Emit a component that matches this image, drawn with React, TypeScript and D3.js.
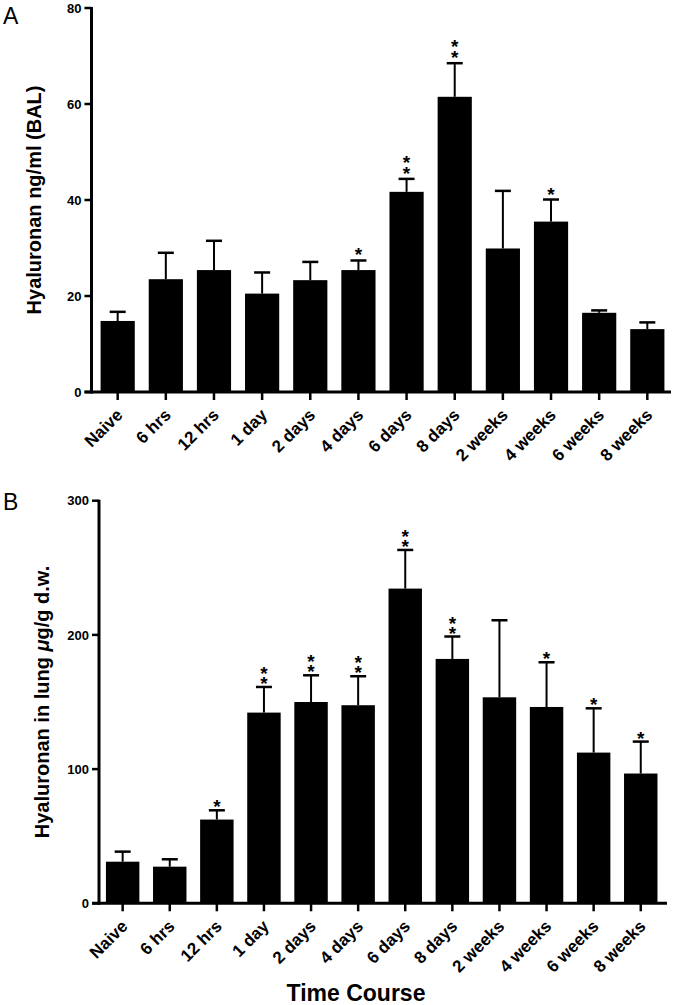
import React from "react";
import * as d3 from "d3";

const categories = ["Naive", "6 hrs", "12 hrs", "1 day", "2 days", "4 days", "6 days", "8 days", "2 weeks", "4 weeks", "6 weeks", "8 weeks"];

const balMean = [14.8, 23.5, 25.4, 20.5, 23.3, 25.4, 41.7, 61.5, 29.9, 35.5, 16.5, 13.1];
const balError = [1.9, 5.5, 6.1, 4.4, 3.8, 2.0, 2.7, 7.0, 12.0, 4.6, 0.5, 1.4];
const balStars = [0, 0, 0, 0, 0, 1, 2, 2, 0, 1, 0, 0];
const balTicks = [0, 20, 40, 60, 80];

const lungMean = [31.0, 27.3, 62.4, 142.1, 150.0, 147.6, 234.5, 182.1, 153.5, 146.3, 112.3, 96.7];
const lungError = [7.5, 5.5, 6.9, 19.1, 19.9, 21.6, 28.8, 16.7, 57.4, 33.3, 33.0, 23.8];
const lungStars = [0, 0, 1, 2, 2, 2, 2, 2, 0, 1, 1, 1];
const lungTicks = [0, 100, 200, 300];

const FONT = "'Liberation Sans', Arial, Helvetica, sans-serif";

type PanelProps = {
  mean: number[];
  error: number[];
  stars: number[];
  ticks: number[];
  domainMax: number;
  yZero: number;
  yTop: number;
  xRange: [number, number];
  axisX: number;
  axisEnd: number;
  starGap: number;
  starStep: number;
};

function Panel(p: PanelProps) {
  const y = d3.scaleLinear().domain([0, p.domainMax]).range([p.yZero, p.yTop]);
  const x = d3
    .scaleBand<string>()
    .domain(categories)
    .range(p.xRange)
    .paddingInner(0.29)
    .paddingOuter(0.145);
  const bw = x.bandwidth();
  const capW = 16;
  return (
    <g>
      {categories.map((c, i) => {
        const x0 = x(c)!;
        const cx = x0 + bw / 2;
        const top = y(p.mean[i]);
        const errTop = y(p.mean[i] + p.error[i]);
        const n = p.stars[i];
        const lowCenter = errTop - p.starGap;
        const highCenter = lowCenter - (n - 1) * p.starStep;
        return (
          <g key={c}>
            <line x1={cx} x2={cx} y1={top} y2={errTop} stroke="#000" strokeWidth={2} />
            <line x1={cx - capW / 2} x2={cx + capW / 2} y1={errTop} y2={errTop} stroke="#000" strokeWidth={2.5} />
            <rect x={x0} y={top} width={bw} height={p.yZero - top} fill="#000" />
            {n > 0 && (
              <text
                x={cx}
                y={highCenter + 11}
                textAnchor="middle"
                fontFamily={FONT}
                fontWeight="bold"
                fontSize={19}
              >
                {d3.range(n).map((k) => (
                  <tspan key={k} x={cx} dy={k === 0 ? 0 : p.starStep}>
                    *
                  </tspan>
                ))}
              </text>
            )}
          </g>
        );
      })}
      {/* y axis */}
      <line x1={p.axisX} x2={p.axisX} y1={p.yTop - 1} y2={p.yZero + 1.5} stroke="#000" strokeWidth={3} />
      {p.ticks.map((t) => (
        <g key={t}>
          <line x1={p.axisX - 7} x2={p.axisX} y1={y(t)} y2={y(t)} stroke="#000" strokeWidth={2.5} />
          <text
            x={p.axisX - 10}
            y={y(t) + 4.7}
            textAnchor="end"
            fontFamily={FONT}
            fontWeight="bold"
            fontSize={13}
          >
            {t}
          </text>
        </g>
      ))}
      {/* x axis */}
      <line x1={p.axisX - 7} x2={p.axisEnd} y1={p.yZero} y2={p.yZero} stroke="#000" strokeWidth={3} />
      {categories.map((c) => {
        const cx = x(c)! + bw / 2;
        return (
          <g key={c}>
            <line x1={cx} x2={cx} y1={p.yZero} y2={p.yZero + 8} stroke="#000" strokeWidth={2.5} />
            <text
              transform={`translate(${cx + 6},${p.yZero + 24}) rotate(-45)`}
              textAnchor="end"
              fontFamily={FONT}
              fontWeight="bold"
              fontSize={17}
            >
              {c}
            </text>
          </g>
        );
      })}
    </g>
  );
}

export default function App() {
  return (
    <svg
      width={673}
      height={1005}
      style={{ position: "absolute", left: 0, top: 0, background: "#fff" }}
    >
      <rect width={673} height={1005} fill="#fff" />
      <text x={3} y={24} fontFamily={FONT} fontSize={23}>A</text>
      <text x={3} y={510} fontFamily={FONT} fontSize={23}>B</text>

      <text
        transform="translate(41,200) rotate(-90)"
        textAnchor="middle"
        fontFamily={FONT}
        fontWeight="bold"
        fontSize={20}
      >
        Hyaluronan ng/ml (BAL)
      </text>
      <text
        transform="translate(49,702) rotate(-90)"
        textAnchor="middle"
        fontFamily={FONT}
        fontWeight="bold"
        fontSize={20}
      >
        Hyaluronan in lung <tspan fontStyle="italic">μ</tspan>g/g d.w.
      </text>

      <Panel
        mean={balMean}
        error={balError}
        stars={balStars}
        ticks={balTicks}
        domainMax={80}
        yZero={392}
        yTop={8}
        xRange={[93.6, 671.4]}
        axisX={91.5}
        axisEnd={671}
        starGap={10}
        starStep={11}
      />
      <Panel
        mean={lungMean}
        error={lungError}
        stars={lungStars}
        ticks={lungTicks}
        domainMax={300}
        yZero={903.3}
        yTop={500.7}
        xRange={[99.1, 664.3]}
        axisX={99}
        axisEnd={667}
        starGap={8}
        starStep={10}
      />

      <text
        x={356}
        y={1001}
        textAnchor="middle"
        fontFamily={FONT}
        fontWeight="bold"
        fontSize={23}
      >
        Time Course
      </text>
    </svg>
  );
}
